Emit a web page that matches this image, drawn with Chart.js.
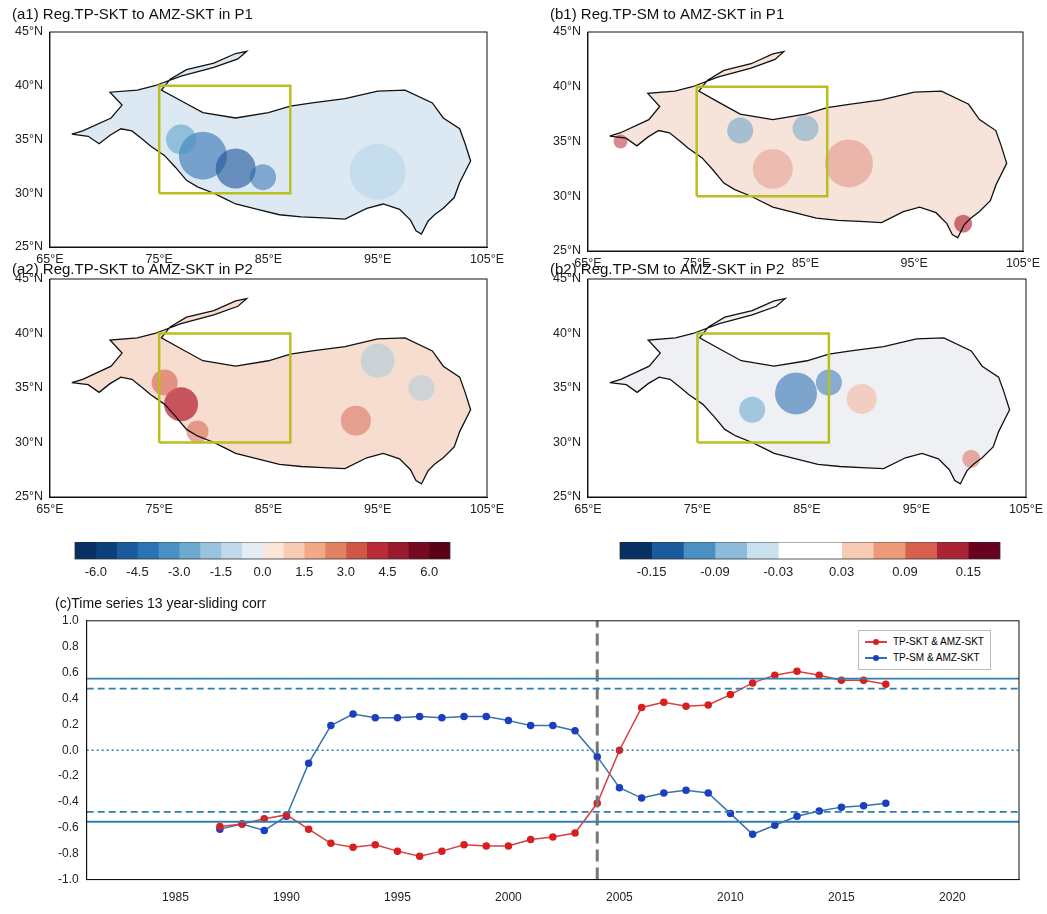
<!DOCTYPE html>
<html><head><meta charset="utf-8">
<script src="https://cdn.jsdelivr.net/npm/chart.js@4"></script>
<style>
body{margin:0;background:#fff;font-family:"Liberation Sans",Arial,sans-serif;}
.box{position:absolute;}
#legend{position:absolute;left:858px;top:630px;border:1px solid #bbb;background:#fff;padding:3px 6px;font-size:10px;line-height:16px;}
#legend span.l{display:inline-block;width:22px;height:2px;vertical-align:middle;margin-right:6px;position:relative;}
#legend span.l i{position:absolute;left:8px;top:-2.5px;width:6px;height:6px;border-radius:3px;}
</style></head><body>
<div class="box" style="left:0;top:0;width:523px;height:275px"><canvas id="a1"></canvas></div>
<div class="box" style="left:530px;top:0;width:517px;height:275px"><canvas id="b1"></canvas></div>
<div class="box" style="left:0;top:253px;width:523px;height:265px"><canvas id="a2"></canvas></div>
<div class="box" style="left:530px;top:253px;width:517px;height:265px"><canvas id="b2"></canvas></div>
<div class="box" style="left:65px;top:542px;width:395px;height:42px"><canvas id="cbA"></canvas></div>
<div class="box" style="left:610px;top:542px;width:400px;height:42px"><canvas id="cbB"></canvas></div>
<div class="box" style="left:0;top:588px;width:1047px;height:326px"><canvas id="ts"></canvas></div>
<div id="legend">
<div><span class="l" style="background:#d64040"><i style="background:#d62020"></i></span>TP-SKT &amp; AMZ-SKT</div>
<div><span class="l" style="background:#3a72aa"><i style="background:#1a3fc0"></i></span>TP-SM &amp; AMZ-SKT</div>
</div>
<script>
// ---- time series data ----
const years = [1987,1988,1989,1990,1991,1992,1993,1994,1995,1996,1997,1998,1999,2000,2001,2002,2003,2004,2005,2006,2007,2008,2009,2010,2011,2012,2013,2014,2015,2016,2017];
const tpSkt = [-0.59,-0.57,-0.53,-0.50,-0.61,-0.72,-0.75,-0.73,-0.78,-0.82,-0.78,-0.73,-0.74,-0.74,-0.69,-0.67,-0.64,-0.41,0.00,0.33,0.37,0.34,0.35,0.43,0.52,0.58,0.61,0.58,0.54,0.54,0.51];
const tpSm = [-0.61,-0.57,-0.62,-0.51,-0.10,0.19,0.28,0.25,0.25,0.26,0.25,0.26,0.26,0.23,0.19,0.19,0.15,-0.05,-0.29,-0.37,-0.33,-0.31,-0.33,-0.49,-0.65,-0.58,-0.51,-0.47,-0.44,-0.43,-0.41];
const sig99 = 0.553, sig95 = 0.476;
const splitYear = 2004;
const yTicks = [-1.0,-0.8,-0.6,-0.4,-0.2,0.0,0.2,0.4,0.6,0.8,1.0];

// ---- map data ----
const lonTicks = [65,75,85,95,105];
const latTicks = [25,30,35,40,45];
const tpOutline = [[67,35.5],[68.5,35.3],[69.5,34.6],[70.5,35.4],[71.5,36],[72.5,35.8],[73.5,35],[74.2,34.4],[75.5,33.5],[76.5,32.4],[77.5,31.2],[78.5,30.6],[80,30],[81,29.5],[82,29],[84,28.5],[86,28],[88,27.8],[90,27.7],[92,27.6],[94,28.6],[95.5,29],[97,28.5],[98,27.5],[98.5,26.5],[99,26.2],[99.6,27.4],[100.2,28],[101,28.6],[102,29.6],[102.5,31],[103.5,33],[103,34.6],[102.5,36],[101,37],[100,38.4],[97.5,39.6],[95,39.5],[92,38.8],[89,38.4],[87,38.1],[85,37.5],[82,37],[79,37.5],[77,38.6],[75.2,39.6],[76,40.6],[77.5,41.5],[80,42.1],[82,43],[83,43.2],[82.2,42.5],[80,41.7],[77,40.9],[74.6,40],[73,39.6],[70.5,39.4],[71.6,38.2],[70.6,37],[68,35.8],[67,35.5]];
const boxLon = [75,87,87,75,75];
const boxLat = [30,30,40,40,30];
const mapFill = {a1:'#dce9f3', b1:'#f6e3da', a2:'#f7ddd0', b2:'#eef0f4'};
// anomaly blobs [lon, lat, radius, colour]
const blobs = {
 a1:[[79,33.5,24,'rgba(33,102,172,0.55)'],[82,32.3,20,'rgba(23,80,150,0.6)'],[77,35,15,'rgba(67,147,195,0.5)'],[84.5,31.5,13,'rgba(33,102,172,0.5)'],[95,32,28,'rgba(146,197,222,0.3)']],
 b1:[[89,33,24,'rgba(214,96,77,0.35)'],[82,32.5,20,'rgba(214,96,77,0.3)'],[79,36,13,'rgba(67,147,195,0.45)'],[85,36.2,13,'rgba(67,147,195,0.4)'],[99.5,27.5,9,'rgba(178,24,43,0.6)'],[68,35,7,'rgba(178,24,43,0.5)']],
 a2:[[77,33.5,17,'rgba(178,24,43,0.7)'],[75.5,35.5,13,'rgba(214,96,77,0.6)'],[78.5,31,11,'rgba(214,96,77,0.55)'],[93,32,15,'rgba(214,96,77,0.5)'],[95,37.5,17,'rgba(146,197,222,0.45)'],[99,35,13,'rgba(146,197,222,0.4)']],
 b2:[[84,34.5,21,'rgba(33,102,172,0.55)'],[87,35.5,13,'rgba(33,102,172,0.5)'],[80,33,13,'rgba(67,147,195,0.45)'],[90,34,15,'rgba(244,165,130,0.45)'],[100,28.5,9,'rgba(214,96,77,0.5)']]
};
const titles = {a1:'(a1) Reg.TP-SKT to AMZ-SKT in P1', b1:'(b1) Reg.TP-SM to AMZ-SKT in P1', a2:'(a2) Reg.TP-SKT to AMZ-SKT in P2', b2:'(b2) Reg.TP-SM to AMZ-SKT in P2'};

// ---- colorbar data ----
const cbAEdges = [-6.75,-6,-5.25,-4.5,-3.75,-3,-2.25,-1.5,-0.75,0,0.75,1.5,2.25,3,3.75,4.5,5.25,6,6.75];
const cbAColors = ['#053061','#0d3f7a','#1b5a9c','#2b73b2','#4a91c3','#6ea9d0','#99c4df','#c0daeb','#e2edf5','#fbe6da','#f8cbb3','#f1a98a','#e28163','#cf5748','#b72c36','#981a2c','#76091f','#5a0016'];
const cbATicks = [-6.0,-4.5,-3.0,-1.5,0.0,1.5,3.0,4.5,6.0];
const cbBEdges = [-0.18,-0.15,-0.12,-0.09,-0.06,-0.03,0,0.03,0.06,0.09,0.12,0.15,0.18];
const cbBColors = ['#053061','#1b5a9c','#4a91c3','#8dbcdb','#c9e0ee','#ffffff','#ffffff','#f8cbb3','#ec9a79','#d6604d','#ab2433','#67001f'];
const cbBTicks = [-0.15,-0.09,-0.03,0.03,0.09,0.15];

const FONT = "'Liberation Sans', Arial, sans-serif";
Chart.defaults.font.family = FONT;
Chart.defaults.color = '#222';
Chart.defaults.animation = false;

function mapChart(id){
  const isA = id[0]==='a';
  const row1 = id[1]==='1';
  const pts = tpOutline.map(p=>({x:p[0],y:p[1]}));
  const ds = [
    {type:'line',data:pts,borderColor:'rgba(0,0,0,0)',borderWidth:0,backgroundColor:mapFill[id],fill:'shape',pointRadius:0,order:4},
    {type:'bubble',data:blobs[id].map(b=>({x:b[0],y:b[1],r:b[2]})),backgroundColor:blobs[id].map(b=>b[3]),borderWidth:0,order:3},
    {type:'line',data:pts,borderColor:'#111',borderWidth:1.3,fill:false,pointRadius:0,order:2},
    {type:'line',data:boxLon.map((x,i)=>({x:x,y:boxLat[i]})),borderColor:'#b8bf1e',borderWidth:2.5,pointRadius:0,fill:false,order:1}
  ];
  new Chart(document.getElementById(id),{
    type:'scatter',data:{datasets:ds},
    options:{responsive:true,maintainAspectRatio:false,
      layout:{padding:{left:isA?12:20,right:isA?36:12,top:0,bottom:0}},
      plugins:{legend:{display:false},tooltip:{enabled:false},
        title:{display:true,text:titles[id],align:'start',font:{size:15,weight:'normal'},color:'#111',padding:row1?{top:6,bottom:8}:{top:8,bottom:0}}},
      scales:{
        x:{type:'linear',min:65,max:105,afterBuildTicks:a=>{a.ticks=lonTicks.map(v=>({value:v}));},
           ticks:{callback:v=>v+'°E',font:{size:12.5},color:'#222',maxRotation:0,padding:1},grid:{display:false,tickLength:4},border:{color:'#111'}},
        y:{type:'linear',min:25,max:45,afterBuildTicks:a=>{a.ticks=latTicks.map(v=>({value:v}));},
           ticks:{callback:v=>v+'°N',font:{size:12.5},color:'#222'},grid:{display:false,tickLength:4},border:{color:'#111'}}
      }},
    plugins:[{id:'frame',afterDraw(c){const a=c.chartArea,x=c.ctx;x.save();x.strokeStyle='#111';x.lineWidth=1;x.strokeRect(a.left,a.top,a.right-a.left,a.bottom-a.top);x.restore();},
      beforeDatasetsDraw(c){const a=c.chartArea;c.ctx.save();c.ctx.beginPath();c.ctx.rect(a.left,a.top,a.right-a.left,a.bottom-a.top);c.ctx.clip();},
      afterDatasetsDraw(c){c.ctx.restore();}}]
  });
}
['a1','b1','a2','b2'].forEach(mapChart);

function colorbar(id,edges,colors,ticks,fmt){
  const ds = colors.map((c,i)=>({data:[[edges[i],edges[i+1]]],backgroundColor:c,borderWidth:0,barPercentage:1,categoryPercentage:1,grouped:false}));
  new Chart(document.getElementById(id),{
    type:'bar',data:{labels:[''],datasets:ds},
    options:{indexAxis:'y',responsive:true,maintainAspectRatio:false,
      layout:{padding:{left:10,right:10,top:0,bottom:8}},
      plugins:{legend:{display:false},tooltip:{enabled:false}},
      scales:{
        x:{type:'linear',min:edges[0],max:edges[edges.length-1],afterBuildTicks:a=>{a.ticks=ticks.map(v=>({value:v}));},
           ticks:{callback:fmt,font:{size:13},color:'#222',maxRotation:0,padding:2},grid:{display:false,tickLength:4},border:{display:false}},
        y:{display:false}
      }},
    plugins:[{id:'cbframe',afterDraw(c){const a=c.chartArea,x=c.ctx;x.save();x.strokeStyle='#333';x.lineWidth=0.8;x.strokeRect(a.left,a.top,a.right-a.left,a.bottom-a.top);x.restore();}}]
  });
}
colorbar('cbA',cbAEdges,cbAColors,cbATicks,v=>v.toFixed(1));
colorbar('cbB',cbBEdges,cbBColors,cbBTicks,v=>v.toFixed(2));

const hline=(v,dash,w)=>({type:'line',data:[{x:1981,y:v},{x:2023,y:v}],borderColor:'#2f7fae',borderWidth:w,borderDash:dash,pointRadius:0,fill:false});
new Chart(document.getElementById('ts'),{
  type:'scatter',
  data:{datasets:[
    hline(sig99,[],1.8),hline(-sig99,[],1.8),hline(sig95,[7,4],1.8),hline(-sig95,[7,4],1.8),hline(0,[2,3],1.5),
    {type:'line',data:[{x:splitYear,y:-1},{x:splitYear,y:1}],borderColor:'#777',borderWidth:3,borderDash:[12,6],pointRadius:0},
    {type:'line',label:'TP-SKT & AMZ-SKT',data:years.map((y,i)=>({x:y,y:tpSkt[i]})),borderColor:'#d64040',borderWidth:1.5,pointBackgroundColor:'#d62020',pointBorderColor:'#d62020',pointRadius:3},
    {type:'line',label:'TP-SM & AMZ-SKT',data:years.map((y,i)=>({x:y,y:tpSm[i]})),borderColor:'#3a72aa',borderWidth:1.5,pointBackgroundColor:'#1a3fc0',pointBorderColor:'#1a3fc0',pointRadius:3}
  ]},
  options:{responsive:true,maintainAspectRatio:false,
    layout:{padding:{left:55,right:28,top:0,bottom:6}},
    plugins:{legend:{display:false},tooltip:{enabled:false},
      title:{display:true,text:'(c)Time series 13 year-sliding corr',align:'start',font:{size:14,weight:'normal'},color:'#111',padding:{top:8,bottom:8}}},
    scales:{
      x:{type:'linear',min:1981,max:2023,
         afterBuildTicks:a=>{const t=[];for(let y=1982;y<=2022;y++)t.push({value:y});a.ticks=t;},
         ticks:{callback:v=>v%5===0?String(v):'',autoSkip:false,font:{size:12},color:'#222',maxRotation:0},
         grid:{display:false,tickLength:8},border:{color:'#111'}},
      y:{type:'linear',min:-1,max:1,afterBuildTicks:a=>{a.ticks=yTicks.map(v=>({value:v}));},
         ticks:{callback:v=>v.toFixed(1),font:{size:12},color:'#222'},grid:{display:false,tickLength:5},border:{color:'#111'}}
    }},
  plugins:[{id:'tframe',afterDraw(c){const a=c.chartArea,x=c.ctx;x.save();x.strokeStyle='#111';x.lineWidth=1;x.strokeRect(a.left,a.top,a.right-a.left,a.bottom-a.top);x.restore();}}]
});
</script>
</body></html>
